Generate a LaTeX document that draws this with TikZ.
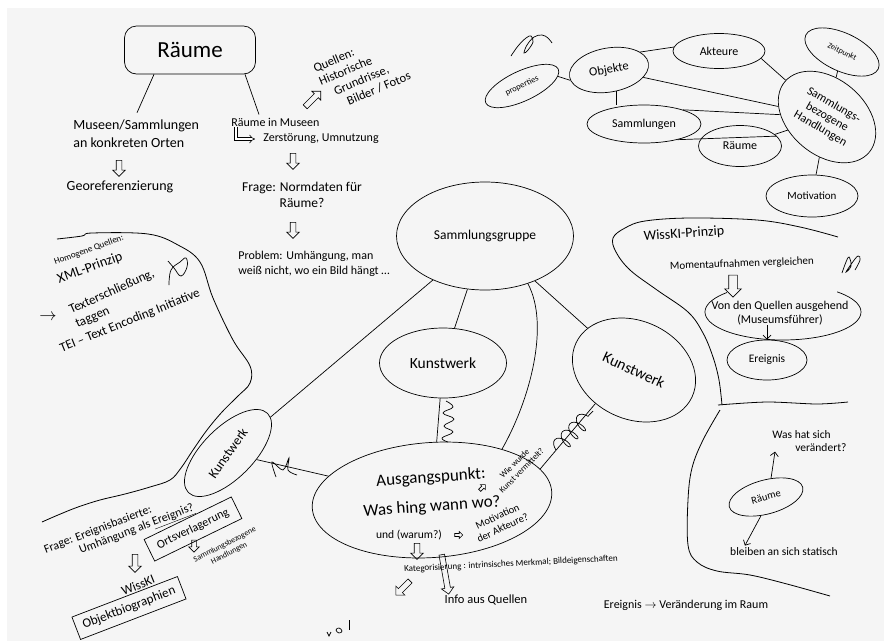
\documentclass[tikz,border=0pt]{standalone}
\usepackage{fontspec}
\setmainfont{Carlito}
\usetikzlibrary{shapes.geometric,shapes.arrows,arrows.meta,decorations.pathmorphing,calc}

\begin{document}
\begin{tikzpicture}[x=1pt,y=-1pt,every path/.style={line width=0.7pt},
    fs/.style 2 args={font=\fontsize{#1}{#2}\selectfont},
    txt/.style={inner sep=0pt},
    el/.style={draw,ellipse,inner sep=0pt},
    blk/.style={draw,single arrow,inner sep=2.5pt,single arrow head extend=3.5pt,
      minimum height=16pt,line width=0.6pt},
    tip/.style={-{Straight Barb[length=4pt,width=8pt]}},
    wavy/.style={line width=0.8pt},
    coilz/.style={decorate,decoration={coil,aspect=0.5,segment length=11pt,amplitude=8pt}}]
\useasboundingbox (0,0) rectangle (884,641);
\fill[black!4] (7,8) rectangle (884,641);

% Raeume, oben links
\node[draw,rounded corners=12pt,minimum width=131pt,minimum height=48pt,fs={23}{27}] (R) at (190,50) {Räume};
\node[txt,fs={14}{18},anchor=west,align=left] (MS) at (73,134) {Museen/Sammlungen\\an konkreten Orten};
\node[blk,rotate=-90] (d1) at (119,167) {};
\node[txt,fs={14}{17}] (G) at (120,187) {Georeferenzierung};
\node[txt,fs={12}{14},anchor=west] (RM) at (231,122) {Räume in Museen};
\node[txt,fs={12}{14},anchor=west] (ZU) at (263,139) {Zerstörung, Umnutzung};
\node[blk,rotate=-90] (d2) at (293,160) {};
\node[txt,fs={13.5}{16},align=center] (FN) at (302,195) {Frage: Normdaten für\\Räume?};
\node[blk,rotate=-90] (d3) at (293,229) {};
\node[txt,fs={12}{15},anchor=west,align=left] (PB) at (238,264) {Problem: Umhängung, man\\weiß nicht, wo ein Bild hängt …};
\node[txt,fs={12.5}{14.5},align=left,rotate=23] (Q) at (362,72) {Quellen:\\Historische\\\hspace*{10pt}Grundrisse,\\\hspace*{18pt}Bilder / Fotos};
\node[blk,rotate=45,minimum height=22pt] (d4) at (312,100) {};
\draw ([xshift=-36pt]R.south) -- ([xshift=64pt,yshift=7pt]MS.north west);
\draw ([xshift=55pt]R.south) -- ([xshift=28pt,yshift=3pt]RM.north west);
\draw[double,double distance=2.4pt,line width=0.6pt,-{Implies},shorten >=8pt] ([xshift=5pt]RM.south west) |- (ZU.west);

% Graph oben rechts
\node[el,minimum width=92pt,minimum height=35pt,fs={12}{14}] (Ak) at (719,51) {Akteure};
\node[el,minimum width=80pt,minimum height=44pt,rotate=10,fs={12.5}{14}] (Ob) at (609,70) {Objekte};
\node[el,minimum width=80pt,minimum height=30pt,rotate=25,fs={8.5}{10}] (Pr) at (522,86) {properties};
\node[el,minimum width=80pt,minimum height=38pt,rotate=-25,fs={8}{10}] (Ze) at (842,52) {Zeitpunkt};
\node[el,minimum width=110pt,minimum height=76pt,rotate=-40] (Sb) at (827,117) {};
\node[txt,fs={12}{13.5},align=center,rotate=-30] (SbT) at (Sb) {Sammlungs-\\bezogene\\Handlungen};
\node[el,minimum width=114pt,minimum height=38pt,fs={12}{14}] (Sa) at (644,124) {Sammlungen};
\node[el,minimum width=83pt,minimum height=41pt,fs={12}{14}] (Ra) at (740,146) {Räume};
\node[el,minimum width=92pt,minimum height=42pt,fs={11}{13}] (Mo) at (812,196) {Motivation};
\draw (Ob.20) -- (Ak.175);
\draw (Ak.-10) -- (Sb);
\draw (Ob) -- (Sb);
\draw (Pr.-10) -- (Ob.185);
\draw (Ob.-80) -- (Ob.-80 |- Sa.north);
\draw (Sa.20) -- (Sb);
\draw (Sa.-25) -- (Ra.15);
\draw (Ra) -- (Sb);
\draw (Ze) -- (Sb);
\draw (Sb) -- (Mo);
\draw plot[smooth,tension=0.6] coordinates {(511,56) (518,46) (526,38) (531,36) (533,42) (528,50) (524,53) (527,45) (534,37) (542,35) (548,38) (552,43)};

% Mitte
\node[el,minimum width=177pt,minimum height=108pt,fs={13.5}{16}] (S) at (485,236) {Sammlungsgruppe};
\node[el,minimum width=127pt,minimum height=70pt,fs={15.5}{18}] (K2) at (443,363) {Kunstwerk};
\node[el,minimum width=128pt,minimum height=98pt,rotate=-25,fs={15.5}{18}] (K3) at (634,370) {Kunstwerk};
\node[el,minimum width=112pt,minimum height=51pt,rotate=45] (K1) at (228,453) {};
\node[txt,fs={13.5}{15},rotate=55] (K1T) at (K1) {Kunstwerk};
\node[el,minimum width=240pt,minimum height=115pt,rotate=4] (A) at (432,500) {};
\node[txt,fs={17}{20},rotate=4] (AP) at (431,478) {Ausgangspunkt:};
\node[txt,fs={17}{20},rotate=4] (WH) at (432,507) {Was hing wann wo?};
\node[txt,fs={11.5}{14}] (UW) at (409,535) {und (warum?)};
\node[txt,fs={10.5}{12.5},align=center,rotate=25] (MA) at (500,522) {Motivation\\der Akteure?};
\node[txt,fs={8.5}{10},align=center,rotate=45] (WK) at (518,467) {Wie wurde\\Kunst vermittelt?};
\node[blk,inner sep=1.2pt,single arrow head extend=2pt,minimum height=8pt] (a1) at (458,535) {};
\node[blk,inner sep=1.2pt,single arrow head extend=2pt,minimum height=8pt,rotate=45] (a2) at (482,488) {};
\node[blk,rotate=-90] (d5) at (417,550) {};
\node[blk,rotate=-80,minimum height=40pt] (d6) at (445,573) {};
\node[blk,rotate=-135,minimum height=20pt] (d7) at (404,587) {};
\node[txt,fs={9}{11},rotate=3] (KB) at (511,564) {Kategorisierung : intrinsisches Merkmal; Bildeigenschaften};
\node[txt,fs={12.5}{15}] (IQ) at (486,600) {Info aus Quellen};
\draw (S) -- (K1);
\draw (S) -- (K2);
\draw (S) -- (K3);
\draw (S.-48) .. controls (550,325) and (530,400) .. (A.32);
\draw (K1) -- (A);
\draw (K2) -- (A);
\draw (A.12) -- (K3.246);
\draw[coilz] (556,450) -- (593,411);
\draw plot[smooth,tension=0.7] coordinates {(446,401) (453,407) (443,413) (454,419) (444,426) (453,432) (442,438) (448,442)};
\draw plot[smooth,tension=0.6] coordinates {(276,477) (272,462) (283,470) (289,458) (288,470) (297,475)};
\draw (327,632) -- (329,636) -- (331,632);
\draw plot[smooth cycle,tension=0.8] coordinates {(336,630) (339,628) (342,631) (339,633)};
\draw (349,620) -- (349,630);

% links
\draw[wavy] plot[smooth,tension=0.6] coordinates {(57,239) (82,236) (92,233) (148,234) (178,245) (200,262) (213,298) (233,340) (250,366) (250,383) (238,396) (222,412) (207,430) (193,450) (181,468) (170,480) (150,487) (125,494) (100,500) (78,507) (58,515) (42,522)};
\node[txt,fs={9}{11},rotate=20] (HQ) at (89,250) {Homogene Quellen:};
\node[txt,fs={14}{17},rotate=20] (XP) at (90,268) {XML-Prinzip};
\node[txt,fs={13}{15.5},align=left,rotate=24] (TX) at (115,299) {Texterschließung,\\taggen};
\node[txt,fs={13}{15.5},rotate=22] (TE) at (130,321) {TEI – Text Encoding Initiative};
\node[txt,fs={16}{18}] (ar) at (48,317) {$\rightarrow$};
\draw plot[smooth,tension=0.7] coordinates {(169,285) (171,270) (180,262) (186,258) (187,267) (181,276) (174,268) (168,261)};
\node[txt,fs={12}{14},rotate=21] (F1) at (98,530) {Frage: Ereignisbasierte:};
\node[txt,fs={12}{14},rotate=21] (F2) at (137,530) {Umhängung als \underline{Ereignis?}};
\node[draw,rotate=26,minimum width=97pt,minimum height=24pt,fs={12}{14}] (OV) at (193,529) {Ortsverlagerung};
\node[blk,rotate=-90,minimum height=12pt,inner sep=2pt,single arrow head extend=3pt] (d8) at (194,545) {};
\node[txt,fs={8}{9.5},align=center,rotate=27] (SH) at (227,549) {Sammlungsbezogene\\Handlungen};
\node[blk,rotate=-90,minimum height=18pt] (d9) at (135,562) {};
\node[txt,fs={13}{15},rotate=22] (WI) at (138,585) {WissKI};
\node[draw,rotate=21,minimum width=113pt,minimum height=24pt,fs={13}{15}] (OB) at (129,608) {Objektbiographien};

% rechts
\draw[wavy] plot[smooth,tension=0.6] coordinates {(838,237) (800,227) (757,220) (690,218) (645,221) (625,228) (613,238) (616,252) (630,270) (657,290) (688,312) (703,333) (713,357) (719,380) (722,405)};
\draw[wavy] plot[smooth,tension=0.5] coordinates {(718,405) (767,402) (817,404) (848,402)};
\draw[wavy] plot[smooth,tension=0.6] coordinates {(720,410) (703,440) (692,468) (688,500) (688,545) (697,562) (717,571) (750,575) (787,584) (830,596)};
\node[txt,fs={14}{17},rotate=4] (WP) at (684,234) {WissKI-Prinzip};
\node[txt,fs={11}{13},rotate=2] (MV) at (742,264) {Momentaufnahmen vergleichen};
\node[blk,rotate=-90,minimum height=22pt,inner sep=4pt,single arrow head extend=4pt] (d10) at (733,284) {};
\node[txt,fs={12}{13.5},align=center] (VQ) at (780,313) {Von den Quellen ausgehend\\(Museumsführer)};
\draw plot[domain=136:406,samples=60] ({783+78*cos(\x)},{312-28*sin(\x)});
\node[el,minimum width=80pt,minimum height=40pt,fs={11.5}{14}] (Er) at (767,360) {Ereignis};
\draw[tip] ([xshift=-13pt]VQ.south) -- (Er.north);
\draw plot[smooth,tension=0.7] coordinates {(842,273) (846,262) (849,257) (851,266) (846,272) (852,263) (858,256) (860,260) (855,270)};
\node[el,minimum width=76pt,minimum height=34pt,rotate=15,fs={10.5}{12}] (Ra2) at (766,497) {Räume};
\node[txt,fs={11.5}{12.5},align=left,anchor=west] (WV) at (772,441) {Was hat sich\\\hspace*{23pt}verändert?};
\node[txt,fs={11.5}{14}] (BS) at (784,552) {bleiben an sich statisch};
\node[txt,fs={12}{14}] (EV) at (686,605) {Ereignis $\rightarrow$ Veränderung im Raum};
\draw[tip] (Ra2.60) -- ([xshift=3pt]WV.south west);
\draw[tip] (Ra2.240) -- ([xshift=15pt,yshift=2pt]BS.north west);
\end{tikzpicture}
\end{document}
